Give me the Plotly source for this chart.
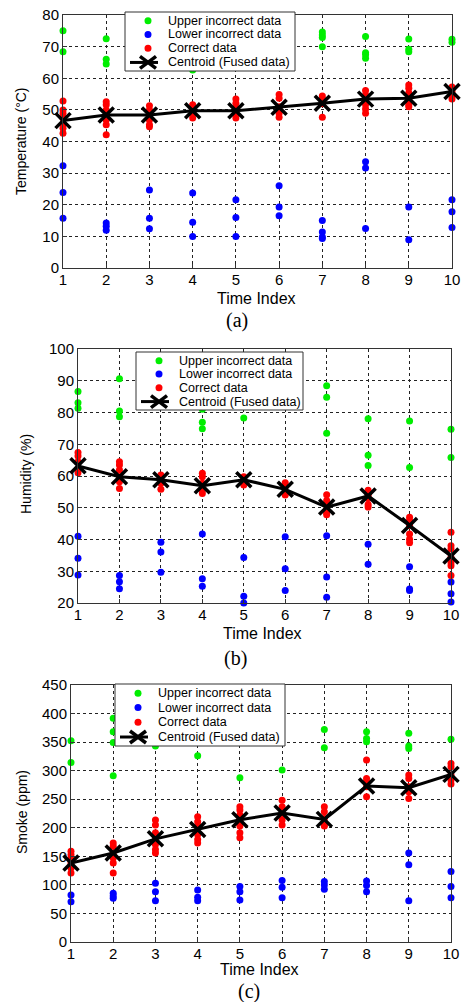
import plotly.graph_objects as go

time_index = list(range(1, 11))

# ---------- (a) Temperature ----------
temp_upper = [[75, 68.4], [72.5, 66, 64.5], [66.3], [62.6], [], [],
              [74.6, 73.7, 72.9, 70], [73.2, 68.1, 67.4, 66.3], [72.4, 69.2, 68.4], [72.3, 71.4]]
temp_lower = [[32.3, 23.9, 15.7], [14.2, 13.2, 11.9], [24.7, 15.7, 12.4], [23.7, 14.5, 10],
              [21.6, 16, 10], [26, 19.3, 16.5], [15, 11.4, 9.8, 9.3], [33.6, 31.6, 12.5],
              [19.3, 8.9], [21.6, 17.8, 12.8]]
temp_correct = [[52.8, 50, 48.9, 47.4, 45.3, 44.2, 42.6], [52.6, 51.6, 50, 48.4, 46.8, 45.3, 42.1],
                [51.3, 50, 48.4, 46.8, 45.3, 44.7], [51.6, 50.5, 48.9, 47.4],
                [53.4, 52.1, 50.5, 48.4, 47.4], [54.9, 53.7, 51, 48.9, 47.7],
                [54.4, 53.4, 51.9, 47.7], [56.1, 54.7, 53.2, 51.6, 50.3, 48.9],
                [57.9, 56.8, 55.3, 53.2, 51.6, 51], [57.2, 55.8, 54.7, 53.4]]
temp_centroid = [46.6, 48.4, 48.4, 49.7, 49.7, 50.8, 52.1, 53.4, 53.7, 55.8]

# ---------- (b) Humidity ----------
hum_upper = [[86.6, 83.1, 81.3], [90.6, 80.5, 78.7], [85], [81, 76.9, 74.9], [78.3], [],
             [88.4, 84.8, 73.5], [78, 66.5, 63.3], [77.3, 62.7], [74.7, 65.8]]
hum_lower = [[41, 34.1, 28.8], [28.7, 26.7, 24.5], [39.1, 36.1, 29.7], [41.7, 27.6, 25.3],
             [34.3, 22.1, 20], [40.9, 30.8, 23.9], [41.2, 28.2, 21.8], [38.5, 32.2],
             [31.4, 24.4, 23.9], [26.6, 22.9, 20.3]]
hum_correct = [[67.4, 66.3, 64.5, 62.4, 61], [64.5, 63.5, 61.9, 59.8, 58.2, 56.1],
               [60.3, 58.8, 57.7, 55.8], [60.9, 59.8, 57.7, 55.5, 54.5],
               [59.8, 58.2, 57.2], [57.9, 56.7, 54.5, 54], [54.1, 52.3, 50.7, 48.4, 47.8],
               [55.5, 53.9, 52.9, 51, 50.2], [47, 46, 44.4, 41.7, 40.1, 39],
               [42.3, 38, 37, 34.3, 32.7, 31.7, 28.7]]
hum_centroid = [63.2, 59.8, 58.8, 56.9, 58.8, 55.8, 50.2, 53.7, 44.4, 34.8]

# ---------- (c) Smoke ----------
smoke_upper = [[352.5, 314.5], [391.6, 368, 349.5, 291], [343.1], [326], [287.6], [301],
               [372.3, 340.2], [368, 356.5, 350.7], [365.3, 343.1, 339], [354.8]]
smoke_lower = [[82.4, 70.6], [85.3, 80.6, 76.5], [102.9, 88.2, 72.4], [91.2, 78.2, 72.4],
               [97.1, 88.2, 73.5], [107.6, 95.9, 77.6], [105.9, 100, 92.4], [107, 98.8, 88.2],
               [155.9, 135.3, 72.4], [123.5, 97.1, 77.6]]
smoke_correct = [[158.8, 152.9, 147.3, 138.2, 129.4, 120.6], [173.5, 167.6, 155.9, 147, 138.2, 120.6],
                 [213.4, 204.7, 191.2, 182.4, 170.6, 161.8, 155.9],
                 [219.3, 210.5, 202.9, 188.2, 179.4, 173.5],
                 [236.8, 231, 222.2, 213.4, 202.9, 191.2, 182.4],
                 [248.4, 236.8, 225, 213.4, 204.7], [236.8, 228, 216.4, 204.7, 202.9],
                 [318.6, 286.4, 280.6, 271.8, 254.3], [292.3, 286.4, 271.8, 263, 251.4],
                 [312.7, 306.9, 292.3, 283.5, 276.5]]
smoke_centroid = [138.2, 155.9, 180.6, 197, 214, 226, 214.7, 273, 270, 293.5]

series_names = ["Upper incorrect data", "Lower incorrect data", "Correct data", "Centroid (Fused data)"]
series_colors = ["#00ee00", "#0000ff", "#ff0000", "black"]

W, H = 463, 1002
FONT = "Liberation Sans, Arial, sans-serif"


def flat(groups):
    xs, ys = [], []
    for t, vals in zip(time_index, groups):
        for v in vals:
            xs.append(t)
            ys.append(v)
    return xs, ys


def px(x):
    return x / W


def py(y):
    return 1 - y / H


fig = go.Figure()

panels = [
    dict(ax="", upper=temp_upper, lower=temp_lower, correct=temp_correct, cent=temp_centroid,
         xdom=(63, 452), ydom=(15, 268), yr=[0, 80], dt=10,
         leg=(125, 12, 295, 71), ytitle="Temperature (°C)", ytx=21, yty=141,
         tix=(256, 298), cap="(a)", capxy=(237, 320)),
    dict(ax="2", upper=hum_upper, lower=hum_lower, correct=hum_correct, cent=hum_centroid,
         xdom=(78, 451), ydom=(349, 603), yr=[20, 100], dt=10,
         leg=(136, 352, 303, 410), ytitle="Humidity (%)", ytx=26, yty=474,
         tix=(262, 633), cap="(b)", capxy=(235, 658)),
    dict(ax="3", upper=smoke_upper, lower=smoke_lower, correct=smoke_correct, cent=smoke_centroid,
         xdom=(71, 451), ydom=(685, 942), yr=[0, 450], dt=50,
         leg=(115, 684, 285, 746), ytitle="Smoke (ppm)", ytx=22, yty=812,
         tix=(259, 969), cap="(c)", capxy=(249, 991)),
]

annotations = []
shapes = []
for p in panels:
    xa = "x" + p["ax"]
    ya = "y" + p["ax"]
    common = dict(xaxis=xa, yaxis=ya, cliponaxis=False, showlegend=False)
    ux, uy = flat(p["upper"])
    lx, ly = flat(p["lower"])
    cx, cy = flat(p["correct"])
    fig.add_trace(go.Scatter(x=ux, y=uy, mode="markers", name=series_names[0],
                             marker=dict(color=series_colors[0], size=7), **common))
    fig.add_trace(go.Scatter(x=lx, y=ly, mode="markers", name=series_names[1],
                             marker=dict(color=series_colors[1], size=7), **common))
    fig.add_trace(go.Scatter(x=cx, y=cy, mode="markers", name=series_names[2],
                             marker=dict(color=series_colors[2], size=7), **common))
    fig.add_trace(go.Scatter(x=time_index, y=p["cent"], mode="lines+markers", name=series_names[3],
                             line=dict(color="black", width=3),
                             marker=dict(symbol="x-thin", size=15, color="black",
                                         line=dict(color="black", width=3.5)), **common))

    axis_common = dict(showline=True, mirror=True, linecolor="#333333", linewidth=1,
                       showgrid=True, gridcolor="#222222", griddash="dot", gridwidth=1,
                       ticks="inside", ticklen=4, tickcolor="#333333", zeroline=False,
                       automargin=False,
                       tickfont=dict(family=FONT, size=15, color="black"))
    fig.update_layout(**{
        "xaxis" + p["ax"]: dict(domain=[px(p["xdom"][0]), px(p["xdom"][1])], range=[1, 10],
                                tickmode="array", tickvals=time_index, anchor=ya,
                                ticklabelstandoff=-2, **axis_common),
        "yaxis" + p["ax"]: dict(domain=[py(p["ydom"][1]), py(p["ydom"][0])], range=p["yr"],
                                dtick=p["dt"], tick0=0, anchor=xa, **axis_common),
    })

    # legend box (drawn on top of the data, opaque)
    x0, y0, x1, y1 = p["leg"]
    hgt = y1 - y0
    shapes.append(dict(type="rect", xref="paper", yref="paper", layer="above",
                       x0=px(x0), x1=px(x1), y0=py(y1), y1=py(y0),
                       fillcolor="white", line=dict(color="#333333", width=1)))
    rows = [y0 + hgt * f for f in (0.15, 0.38, 0.615, 0.855)]
    mx = x0 + 23
    for i, (name, col) in enumerate(zip(series_names, series_colors)):
        ry = rows[i]
        if i < 3:
            r = 3.5
            shapes.append(dict(type="circle", xref="paper", yref="paper", layer="above",
                               x0=px(mx - r), x1=px(mx + r), y0=py(ry + r), y1=py(ry - r),
                               fillcolor=col, line=dict(width=0)))
        else:
            shapes.append(dict(type="line", xref="paper", yref="paper", layer="above",
                               x0=px(x0 + 5), x1=px(x0 + 33), y0=py(ry), y1=py(ry),
                               line=dict(color="black", width=3)))
            for sgn in (1, -1):
                shapes.append(dict(type="line", xref="paper", yref="paper", layer="above",
                                   x0=px(mx - 8), x1=px(mx + 8), y0=py(ry - 6 * sgn), y1=py(ry + 6 * sgn),
                                   line=dict(color="black", width=3.5)))
        annotations.append(dict(x=px(x0 + 41), y=py(ry), xref="paper", yref="paper",
                                xanchor="left", yanchor="middle", text=name, showarrow=False,
                                font=dict(family=FONT, size=12.5, color="black")))

    annotations.append(dict(x=px(p["ytx"]), y=py(p["yty"]), xref="paper", yref="paper",
                            xanchor="center", yanchor="middle",
                            text=p["ytitle"], textangle=-90, showarrow=False,
                            font=dict(family=FONT, size=14, color="black")))
    annotations.append(dict(x=px(p["tix"][0]), y=py(p["tix"][1]), xref="paper", yref="paper",
                            xanchor="center", yanchor="middle",
                            text="Time Index", showarrow=False,
                            font=dict(family=FONT, size=16, color="black")))
    annotations.append(dict(x=px(p["capxy"][0]), y=py(p["capxy"][1]), xref="paper", yref="paper",
                            xanchor="center", yanchor="middle",
                            text=p["cap"], showarrow=False,
                            font=dict(family="Liberation Serif, Times New Roman, serif", size=20, color="black")))

fig.update_layout(width=W, height=H, margin=dict(l=0, r=0, t=0, b=0), template="none",
                  paper_bgcolor="white", plot_bgcolor="white", annotations=annotations,
                  shapes=shapes, showlegend=False)

fig.write_html("out.html", config={"displayModeBar": False},
               post_script="document.body.style.margin='0';document.body.style.overflow='hidden';")
